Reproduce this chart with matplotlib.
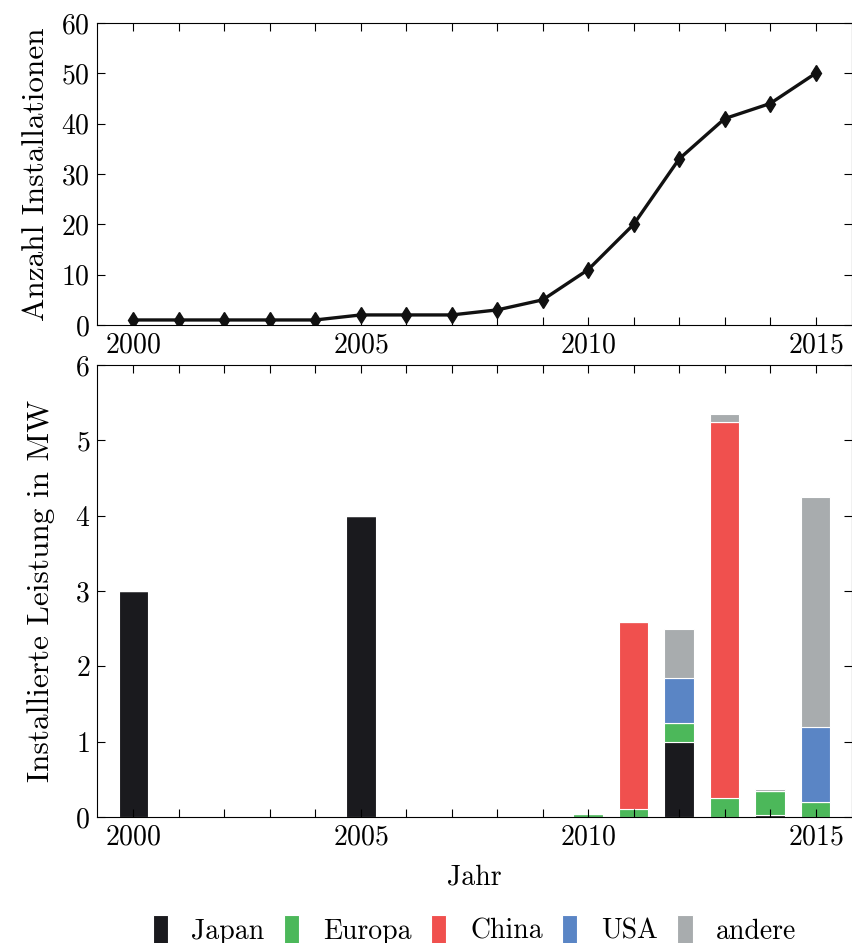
import matplotlib
matplotlib.use("Agg")
import matplotlib.pyplot as plt
import numpy as np

plt.rcParams["font.family"] = ["cmr10", "DejaVu Serif"]
plt.rcParams["axes.formatter.use_mathtext"] = True
plt.rcParams["mathtext.fontset"] = "cm"

# Anzahl Installationen pro Jahr
years = list(range(2000, 2016))
installs = [1, 1, 1, 1, 1, 2, 2, 2, 3, 5, 11, 20, 33, 41, 44, 50]

# installierte Leistung in MW (gestapelt)
regions = ["Japan", "Europa", "China", "USA", "andere"]
colors = ["#1a1a1e", "#4cb85a", "#f0504e", "#5a85c5", "#a8acae"]
japan  = [3.0, 0, 0, 0, 0, 4.0, 0, 0, 0, 0,    0,    0,    1.0,  0,    0.02, 0]
europa = [0,   0, 0, 0, 0, 0,   0, 0, 0, 0,    0.04, 0.1,  0.25, 0.25, 0.33, 0.2]
china  = [0,   0, 0, 0, 0, 0,   0, 0, 0, 0,    0,    2.49, 0,    5.0,  0,    0]
usa    = [0,   0, 0, 0, 0, 0,   0, 0, 0, 0,    0,    0,    0.6,  0,    0,    1.0]
andere = [0,   0, 0, 0, 0, 0,   0, 0, 0, 0.01, 0,    0,    0.65, 0.1,  0.02, 3.05]
series = [japan, europa, china, usa, andere]

fig = plt.figure(figsize=(8.53, 9.43), dpi=100)
ax1 = fig.add_axes([97 / 853, 1 - 325 / 943, 755 / 853, 302 / 943])
ax2 = fig.add_axes([97 / 853, 1 - 817 / 943, 755 / 853, 452 / 943])

fs = 20

# 1) Linie
ax1.plot(years, installs, color="#111111", lw=2.4, marker="d", ms=8)
ax1.set_ylim(0, 60)
ax1.set_yticks(range(0, 61, 10))
ax1.set_ylabel("Anzahl Installationen", fontsize=22.5, labelpad=8)

# 2) gestapelte Balken
bottom = np.zeros(len(years))
for name, col, vals in zip(regions, colors, series):
    ax2.bar(years, vals, width=0.65, bottom=bottom, color=col,
            edgecolor="white", linewidth=0.8, label=name)
    bottom += np.array(vals)
ax2.set_ylim(0, 6)
ax2.set_ylabel("Installierte Leistung in MW", fontsize=22.5, labelpad=14)
ax2.set_xlabel("Jahr", fontsize=fs, labelpad=10)

for ax in (ax1, ax2):
    ax.set_xlim(1999.2, 2015.8)
    ax.set_xticks([2000, 2005, 2010, 2015])
    ax.set_xticks(years, minor=True)
    ax.tick_params(which="both", direction="in", top=True, right=True,
                   labelsize=fs, width=0.8)
    ax.tick_params(which="major", length=6, pad=5)
    ax.tick_params(which="minor", length=6)
    for s in ax.spines.values():
        s.set_linewidth(0.8)

ax2.legend(loc="center", bbox_to_anchor=(0.5, -0.25), ncol=5,
           frameon=False, fontsize=fs, handlelength=0.55, handleheight=1.2,
           columnspacing=0.7, handletextpad=0.85)

plt.savefig("out.png", dpi=100)
